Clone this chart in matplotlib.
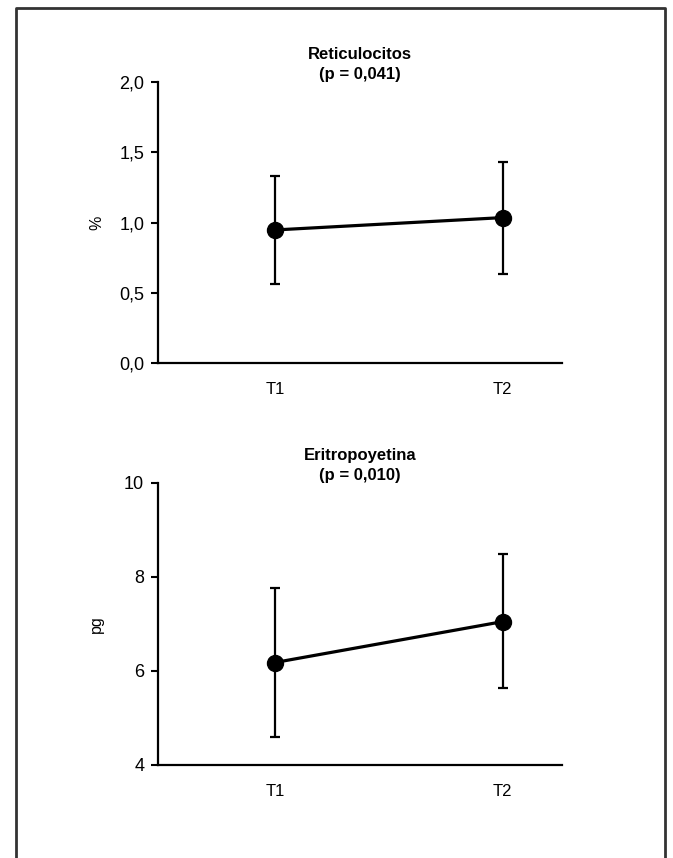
import matplotlib
matplotlib.use('Agg')
import matplotlib.pyplot as plt
from matplotlib.lines import Line2D

# datos
tiempos = ['T1', 'T2']
x_pos = [1, 2]

reti_media = [0.947, 1.035]
reti_sup = [1.333, 1.43]
reti_inf = [0.56, 0.633]
reti_ticks = [0.0, 0.5, 1.0, 1.5, 2.0]
reti_ticklabels = ['0,0', '0,5', '1,0', '1,5', '2,0']

epo_media = [6.18, 7.05]
epo_sup = [7.77, 8.49]
epo_inf = [4.6, 5.64]
epo_ticks = [4, 6, 8, 10]
epo_ticklabels = ['4', '6', '8', '10']

paneles = [
    ('Reticulocitos\n(p = 0,041)', '%', reti_media, reti_sup, reti_inf,
     reti_ticks, reti_ticklabels, (0, 2)),
    ('Eritropoyetina\n(p = 0,010)', 'pg', epo_media, epo_sup, epo_inf,
     epo_ticks, epo_ticklabels, (4, 10)),
]

fuente = ['Liberation Sans', 'DejaVu Sans']

fig = plt.figure(figsize=(6.73, 8.58), dpi=100)
posiciones = [[0.2348, 0.5769, 0.600, 0.3275],
              [0.2348, 0.1084, 0.600, 0.3287]]

for pos, (titulo, ylab, media, sup, inf, ticks, ticklabels, ylim) in zip(posiciones, paneles):
    ax = fig.add_axes(pos)
    err = [[m - b for m, b in zip(media, inf)], [t - m for m, t in zip(media, sup)]]
    ax.errorbar(x_pos, media, yerr=err, fmt='none', ecolor='black',
                elinewidth=1.6, capsize=3.5, capthick=1.6)
    ax.plot(x_pos, media, color='black', linewidth=2.3, marker='o',
            markersize=11.5, zorder=3)
    ax.set_xlim(0.487, 2.26)
    ax.set_ylim(*ylim)
    ax.set_yticks(ticks)
    ax.set_yticklabels(ticklabels, family=fuente, fontsize=13)
    ax.set_xticks(x_pos)
    ax.set_xticklabels(tiempos, family=fuente, fontsize=12)
    ax.tick_params(axis='x', length=0, pad=14)
    ax.tick_params(axis='y', length=5, width=1.5, pad=5)
    for s in ['top', 'right']:
        ax.spines[s].set_visible(False)
    for s in ['left', 'bottom']:
        ax.spines[s].set_linewidth(1.6)
    ax.set_ylabel(ylab, family=fuente, fontsize=11.5)
    ax.yaxis.set_label_coords(-0.134, 0.5)
    ax.set_title(titulo, family=fuente, fontsize=12, fontweight='bold',
                 pad=1, linespacing=1.4)

# marco abierto por abajo
fig.add_artist(Line2D([0.0238, 0.0238, 0.988, 0.988], [0.0, 0.9907, 0.9907, 0.0],
                      transform=fig.transFigure, color='#333333', linewidth=2.0))

fig.savefig('out.png', dpi=100)
